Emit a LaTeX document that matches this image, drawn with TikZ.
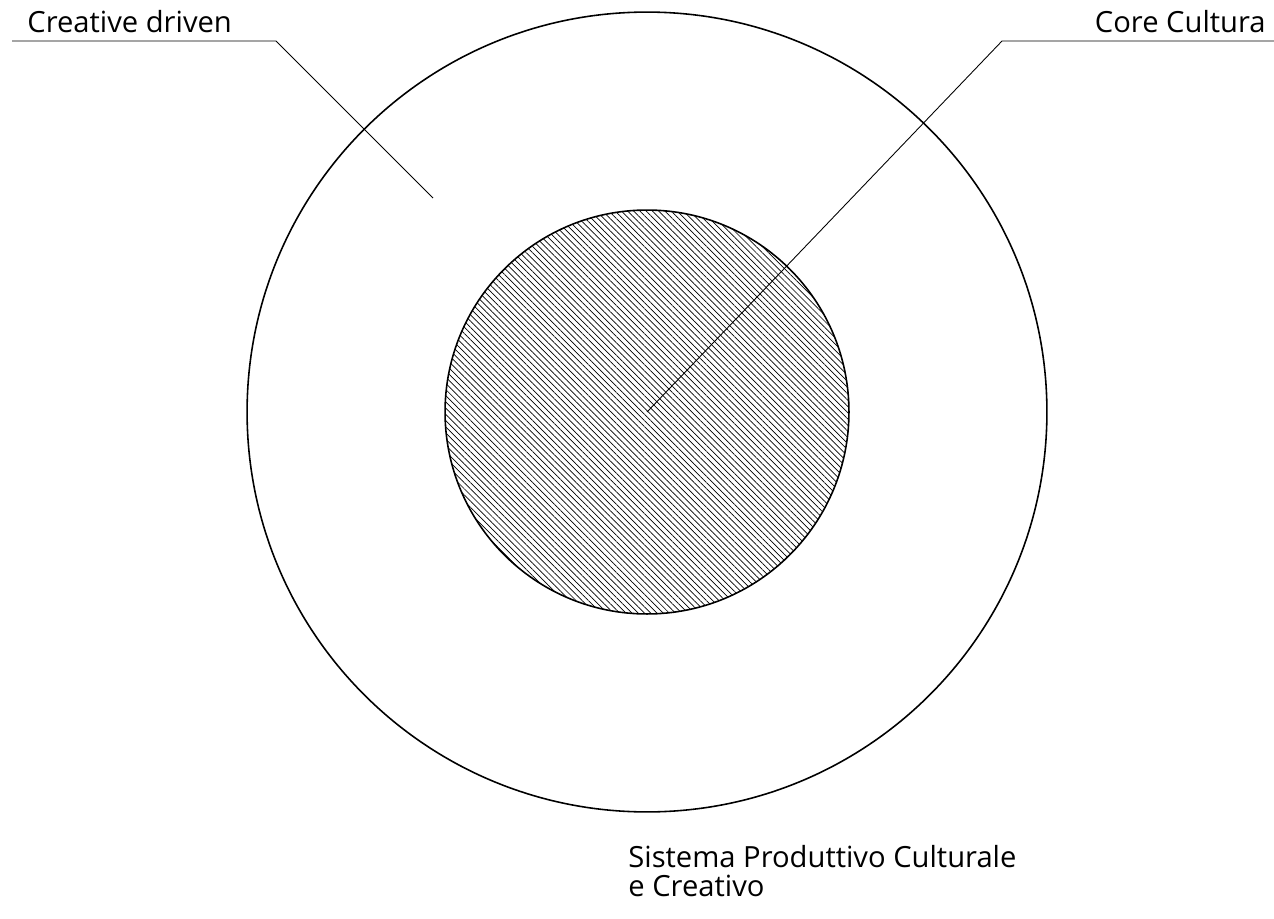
\documentclass[tikz,border=0pt]{standalone}
\usepackage{fontspec}
\setmainfont{Open Sans}
\usetikzlibrary{patterns.meta}

\begin{document}
\begin{tikzpicture}[x=0.02cm, y=-0.02cm]
    % Area del disegno
    \useasboundingbox (0,0) rectangle (1274,919);

    % Cerchio esterno: sistema produttivo
    \node[circle, draw, line width=0.9pt, inner sep=0pt, minimum size=16cm] (sistema) at (647,412) {};

    % Cerchio interno tratteggiato: core cultura
    \node[circle, draw, line width=0.9pt, inner sep=0pt, minimum size=8.08cm,
          pattern={Lines[angle=-45, distance=2.5pt, line width=0.4pt]}] (core) at (647,412) {};

    % Etichette
    \node[anchor=base west, inner sep=0pt, font=\fontsize{16.6}{19}\selectfont] (creative) at (27,33) {Creative driven};
    \node[anchor=base east, inner sep=0pt, font=\fontsize{16.6}{19}\selectfont] (cultura) at (1266,33) {Core Cultura};
    \node[anchor=base west, inner sep=0pt, align=left, font=\fontsize{16.6}{16.4}\selectfont] (titolo) at (628,896)
        {Sistema Produttivo Culturale\\e Creativo};

    % Linee di richiamo
    \coordinate (cd-a) at (12,41);
    \coordinate (cd-b) at (276,41);
    \coordinate (cd-c) at (433,198);
    \coordinate (cc-a) at (1274,41);
    \coordinate (cc-b) at (1002,41);
    \draw[line width=0.5pt] (cd-a) -- (cd-b) -- (cd-c);
    \draw[line width=0.5pt] (cc-a) -- (cc-b) -- (core.center);
\end{tikzpicture}
\end{document}
